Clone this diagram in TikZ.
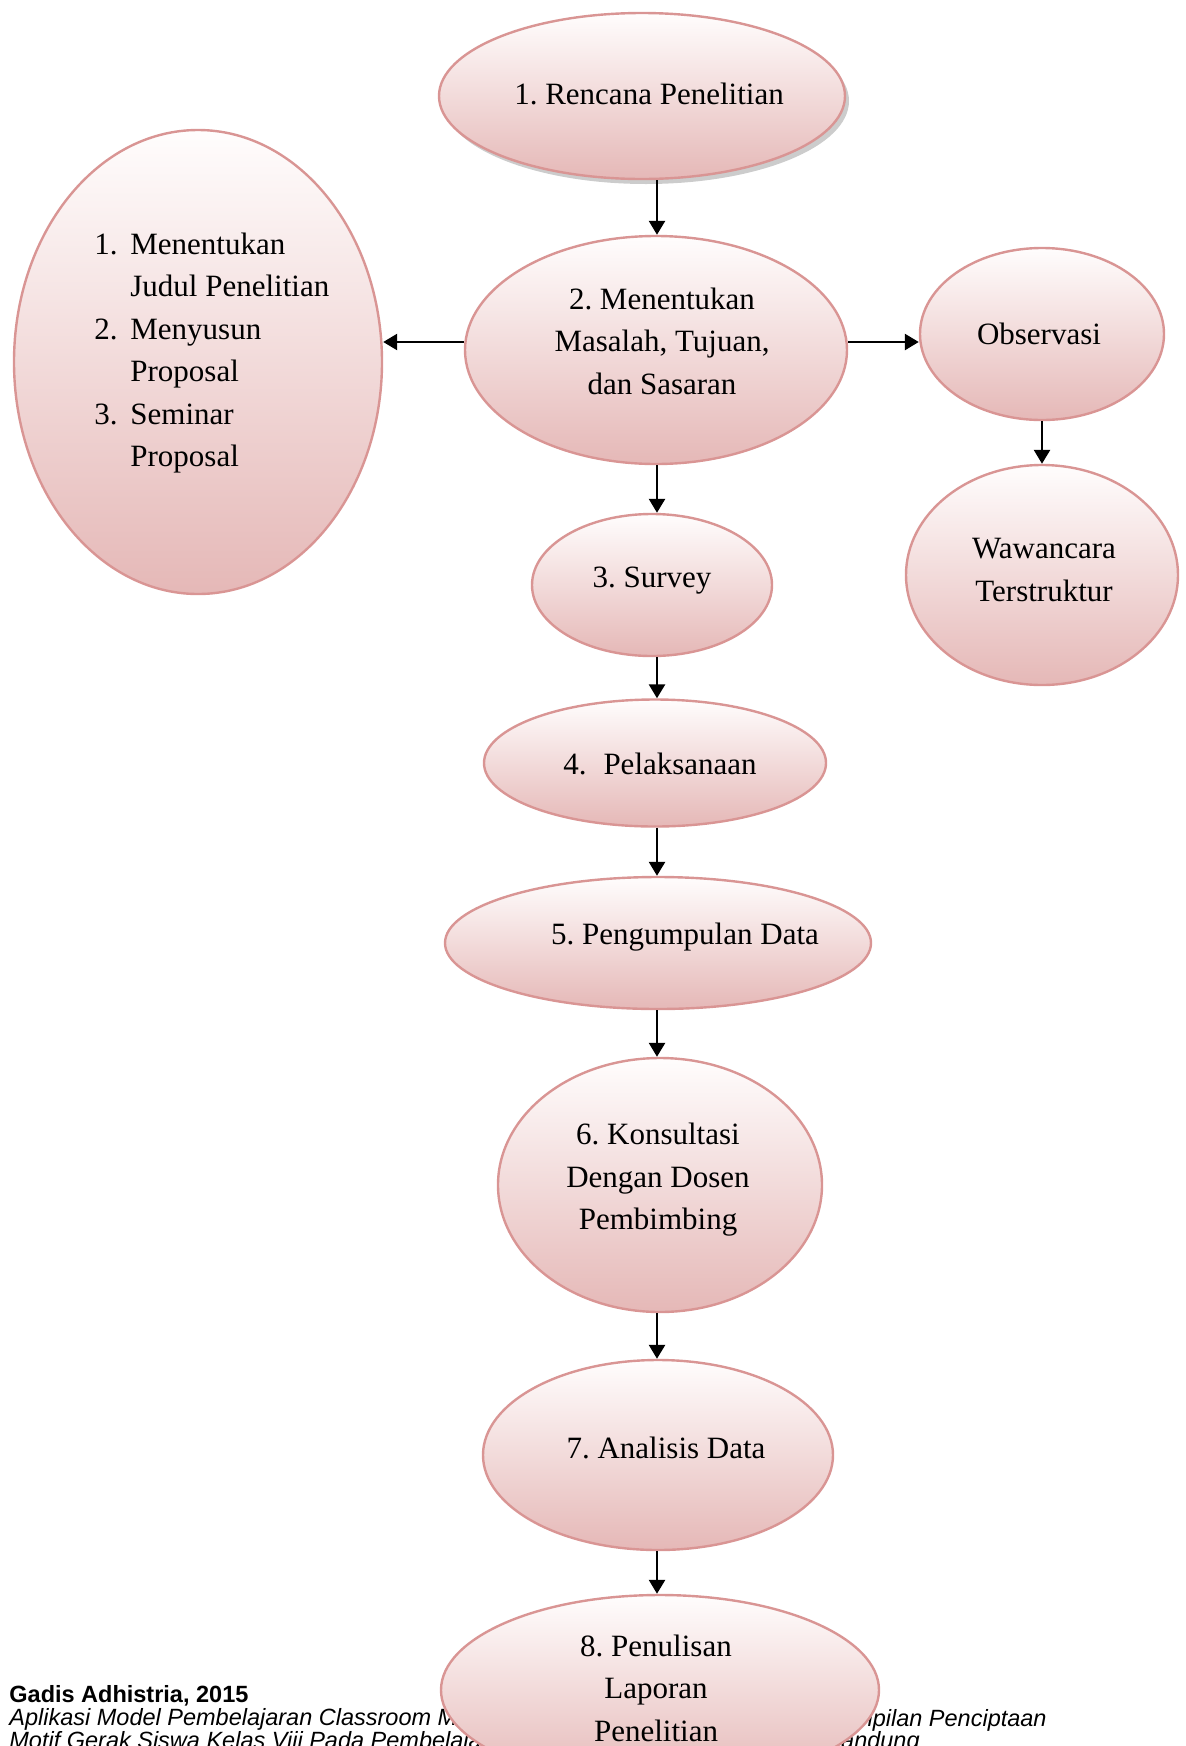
\documentclass[tikz,border=0pt]{standalone}
\usepackage{fontspec}
\setmainfont{Liberation Serif}
\newfontfamily\footfont{Liberation Sans}
\frenchspacing
\usetikzlibrary{
    shapes.geometric,
    arrows.meta,
    shadows
}
\definecolor{garisPink}{HTML}{D99594}
\definecolor{atasPink}{HTML}{FFFDFD}
\definecolor{bawahPink}{HTML}{E5B8B7}
\tikzset{
    >={Triangle[length=7pt,width=8pt]},
    tahap/.style={
        ellipse,
        draw=garisPink,
        line width=1.2pt,
        top color=atasPink,
        bottom color=bawahPink,
        inner sep=0pt
    },
    ukuran/.style 2 args={
        minimum width=#1pt,
        minimum height=#2pt
    },
    teks/.style={
        align=center,
        inner sep=0pt,
        font=\fontsize{15.5}{21.25}\selectfont
    },
    kaki/.style={
        inner sep=0pt,
        font=\footfont\fontsize{11.75}{14}\selectfont
    },
    alur/.style={
        ->,
        line width=1.3pt
    }
}

\begin{document}
\begin{tikzpicture}[
    x=0.5pt,
    y=-0.5pt
]
    \useasboundingbox (0,0) rectangle (1186,1746);
    \coordinate (sumbu) at (657,0);

    % Keterangan penulis
    \node[kaki, font=\footfont\bfseries\fontsize{11.75}{14}\selectfont, anchor=base west]
        (penulis) at (9,1702) {Gadis Adhistria, 2015};
    \node[kaki, anchor=base west] (judulA) at (9,1725)
        {\itshape Aplikasi Model Pembelajaran Classroom M};
    \node[kaki, anchor=base east] (judulB) at (1047,1726)
        {\itshape mpilan Penciptaan};
    \node[kaki, anchor=base west] (judulC) at (9,1748)
        {\itshape Motif Gerak Siswa Kelas Viii Pada Pembelajaran};
    \node[kaki, anchor=base east] (judulD) at (920,1748)
        {\itshape andung};

    % Tahapan
    \node[tahap, ukuran={203}{83},
        drop shadow={shadow xshift=2pt, shadow yshift=-2.5pt, fill=black!40}]
        (e1) at (642,96) {};
    \node[tahap, ukuran={191}{114}]  (e2)   at (656,350)  {};
    \node[tahap, ukuran={184}{232}]  (kiri) at (198,362)  {};
    \node[tahap, ukuran={122}{86}]   (obs)  at (1042,334) {};
    \node[tahap, ukuran={136}{110}]  (waw)  at (1042,575) {};
    \node[tahap, ukuran={120}{71}]   (e3)   at (652,585)  {};
    \node[tahap, ukuran={171}{63.5}] (e4)   at (655,763)  {};
    \node[tahap, ukuran={213}{66}]   (e5)   at (658,943)  {};
    \node[tahap, ukuran={162}{127}]  (e6)   at (660,1185) {};
    \node[tahap, ukuran={175}{95}]   (e7)   at (658,1455) {};
    \node[tahap, ukuran={219}{95}]   (e8)   at (660,1690) {};

    % Tulisan
    \node[teks] (t1)  at (649,94)   {1. Rencana Penelitian};
    \node[teks] (t2)  at (662,341)  {2. Menentukan\\Masalah, Tujuan,\\dan Sasaran};
    \node[teks, align=left, anchor=west] (tkiri) at (94,353)
        {\makebox[18pt][l]{1.}Menentukan\\
         \hspace*{18pt}Judul Penelitian\\
         \makebox[18pt][l]{2.}Menyusun\\
         \hspace*{18pt}Proposal\\
         \makebox[18pt][l]{3.}Seminar\\
         \hspace*{18pt}Proposal};
    \node[teks] (tobs) at (1039,334) {Observasi};
    \node[teks] (twaw) at (1044,570) {Wawancara\\Terstruktur};
    \node[teks] (t3)  at (652,581)  {3. Survey};
    \node[teks] (t4)  at (660,764)  {4.\hspace{8.5pt}Pelaksanaan};
    \node[teks] (t5)  at (685,937)  {5. Pengumpulan Data};
    \node[teks] (t6)  at (658,1180) {6. Konsultasi\\Dengan Dosen\\Pembimbing};
    \node[teks] (t7)  at (666,1448) {7. Analisis Data};
    \node[teks] (t8)  at (656,1688) {8. Penulisan\\Laporan\\Penelitian};

    % Panah
    \draw[alur] (e1.south -| sumbu) -- (e2.north -| sumbu);
    \draw[alur] (e2.south -| sumbu) -- (e3.north -| sumbu);
    \draw[alur] (e3.south -| sumbu) -- (e4.north -| sumbu);
    \draw[alur] (e4.south -| sumbu) -- (e5.north -| sumbu);
    \draw[alur] (e5.south -| sumbu) -- (e6.north -| sumbu);
    \draw[alur] (e6.south -| sumbu) -- (e7.north -| sumbu);
    \draw[alur] (e7.south -| sumbu) -- (e8.north -| sumbu);
    \draw[alur] ([yshift=4pt]e2.west) -- ([yshift=4pt]e2.west -| kiri.east);
    \draw[alur] ([yshift=4pt]e2.east) -- ([yshift=4pt]e2.east -| obs.west);
    \draw[alur] (obs.south) -- (waw.north);

\end{tikzpicture}
\end{document}
